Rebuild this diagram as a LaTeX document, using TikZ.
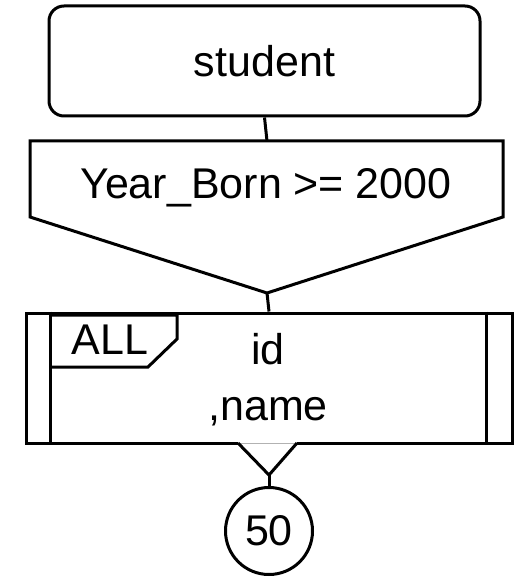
\documentclass[tikz,border=0pt]{standalone}
\usepackage{fontspec}
\setmainfont{Liberation Sans}
\usetikzlibrary{positioning}

\begin{document}
\begin{tikzpicture}[
      x=0.5pt, y=-0.5pt,
      font=\fontsize{21.5}{28}\selectfont,
      line width=1.5pt,
      tabla/.style={draw, rounded corners=7.5pt, minimum width=215.5pt,
      minimum height=55pt},
      proyeccion/.style={draw, minimum width=243pt, minimum height=65pt},
      limite/.style={draw, circle, minimum size=43.5pt, inner sep=0pt},
      texto/.style={align=center, inner sep=0pt},
      enlace/.style={line width=1.5pt}
    ]
    \useasboundingbox (0,0) rectangle (528,577);

    % tabla de origen
    \node[tabla] (student) at (264.5,61) {student};

    % filtro (pentagono hacia abajo)
    \coordinate (filtro-arriba) at (267,141);
    \coordinate (filtro-punta) at (267,293);
    \draw (30,141) -- (503,141) -- (503,217) -- (filtro-punta) -- (30,217) -- cycle;
    \node[texto] (filtro) at (266,188) {Year\_Born >= 2000};

    % proyeccion con barras laterales
    \node[proyeccion] (proy) at (269,378) {};
    \draw ([xshift=13pt]proy.north west) -- ([xshift=13pt]proy.south west);
    \draw ([xshift=-13.5pt]proy.north east) -- ([xshift=-13.5pt]proy.south east);
    \draw (52,315) -- (177,315) -- (177,339) -- (148,367) -- (52,367);
    \node[texto] (all) at (110,340) {ALL};
    \node[texto] (campos) at (268,380) {id\\,name};

    % salida hacia el limite
    \coordinate (salida-izq) at (238,443);
    \coordinate (salida-der) at (297,443);
    \coordinate (salida-punta) at (269,475);
    \draw[white, line width=1.8pt] (salida-izq) -- (salida-der);
    \draw[black!30, line width=0.4pt] (salida-izq) -- (salida-der);
    \draw (salida-izq) -- (salida-punta) -- (salida-der);
    \node[limite] (lim) at (269,531) {50};

    \draw[enlace] (student.south) -- (filtro-arriba);
    \draw[enlace] (filtro-punta) -- (proy.north);
    \draw[enlace] (salida-punta) -- (lim.north);
  \end{tikzpicture}
\end{document}
